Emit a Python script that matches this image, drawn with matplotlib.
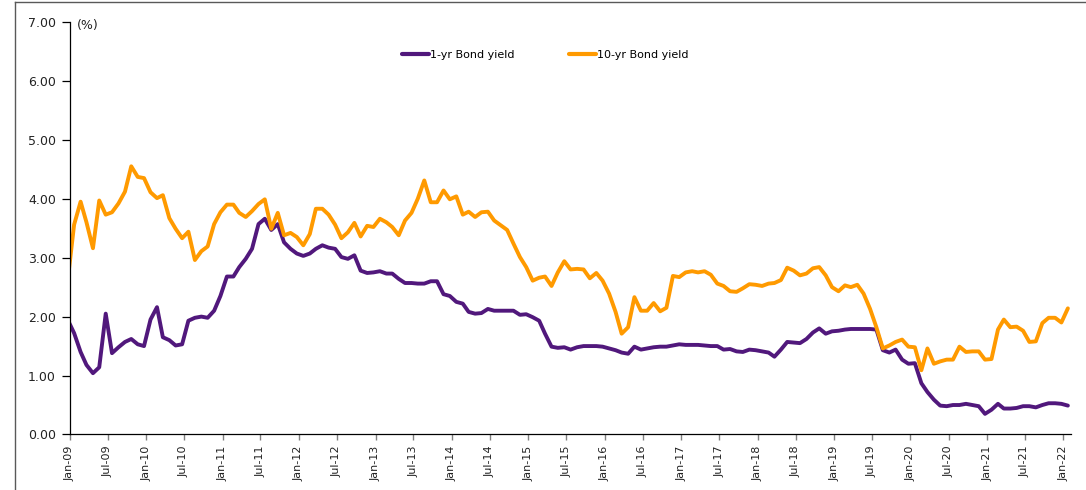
"""
Thai 1-yr vs 10-yr bond yield, monthly, Dec-08 to Jan-22
"""

import pandas as pd
import matplotlib
matplotlib.use("Agg")
from matplotlib import pyplot as plt
import matplotlib.dates as mdates
from matplotlib.lines import Line2D

# Data (monthly), first value is Dec-08
months = pd.date_range("2008-12-01", "2022-01-01", freq="MS") + pd.Timedelta(days=21)

ten_yr = [2.60,
          3.56, 3.95, 3.60, 3.16, 3.97, 3.73, 3.77, 3.92, 4.12, 4.55, 4.37, 4.35,
          4.11, 4.01, 4.06, 3.67, 3.49, 3.33, 3.44, 2.96, 3.11, 3.19, 3.57, 3.77,
          3.90, 3.90, 3.76, 3.69, 3.79, 3.91, 3.99, 3.49, 3.76, 3.38, 3.42, 3.35,
          3.21, 3.40, 3.83, 3.83, 3.73, 3.56, 3.33, 3.43, 3.59, 3.36, 3.54, 3.52,
          3.66, 3.60, 3.52, 3.38, 3.63, 3.76, 4.00, 4.31, 3.94, 3.94, 4.14, 3.99,
          4.04, 3.73, 3.78, 3.69, 3.77, 3.78, 3.63, 3.55, 3.47, 3.24, 3.01, 2.84,
          2.61, 2.66, 2.68, 2.52, 2.75, 2.94, 2.80, 2.81, 2.80, 2.65, 2.74, 2.61,
          2.39, 2.08, 1.71, 1.82, 2.33, 2.10, 2.10, 2.23, 2.09, 2.15, 2.69, 2.67,
          2.75, 2.77, 2.75, 2.77, 2.71, 2.56, 2.52, 2.43, 2.42, 2.48, 2.55, 2.54,
          2.52, 2.56, 2.57, 2.62, 2.83, 2.78, 2.70, 2.73, 2.82, 2.84, 2.70, 2.50,
          2.43, 2.53, 2.50, 2.54, 2.39, 2.13, 1.82, 1.46, 1.51, 1.57, 1.61, 1.49,
          1.48, 1.09, 1.46, 1.20, 1.24, 1.27, 1.27, 1.49, 1.40, 1.41, 1.41, 1.27,
          1.28, 1.78, 1.95, 1.82, 1.83, 1.76, 1.57, 1.58, 1.89, 1.98, 1.98, 1.90,
          2.14]

one_yr = [1.95,
          1.72, 1.40, 1.18, 1.04, 1.14, 2.05, 1.38, 1.48, 1.57, 1.62, 1.53, 1.50,
          1.95, 2.16, 1.65, 1.60, 1.51, 1.53, 1.93, 1.98, 2.00, 1.98, 2.10, 2.35,
          2.68, 2.68, 2.84, 2.98, 3.15, 3.57, 3.66, 3.47, 3.57, 3.26, 3.15, 3.07,
          3.03, 3.07, 3.15, 3.21, 3.17, 3.15, 3.01, 2.98, 3.04, 2.78, 2.74, 2.75,
          2.77, 2.73, 2.73, 2.64, 2.57, 2.57, 2.56, 2.56, 2.60, 2.60, 2.38, 2.35,
          2.25, 2.22, 2.08, 2.05, 2.06, 2.13, 2.10, 2.10, 2.10, 2.10, 2.03, 2.04,
          1.99, 1.93, 1.71, 1.49, 1.47, 1.48, 1.44, 1.48, 1.50, 1.50, 1.50, 1.49,
          1.46, 1.43, 1.39, 1.37, 1.49, 1.44, 1.46, 1.48, 1.49, 1.49, 1.51, 1.53,
          1.52, 1.52, 1.52, 1.51, 1.50, 1.50, 1.44, 1.45, 1.41, 1.40, 1.44, 1.43,
          1.41, 1.39, 1.32, 1.44, 1.57, 1.56, 1.55, 1.62, 1.73, 1.80, 1.71, 1.75,
          1.76, 1.78, 1.79, 1.79, 1.79, 1.79, 1.78, 1.43, 1.39, 1.44, 1.27, 1.20,
          1.21, 0.87, 0.72, 0.59, 0.49, 0.48, 0.50, 0.50, 0.52, 0.50, 0.48, 0.35,
          0.42, 0.52, 0.44, 0.44, 0.45, 0.48, 0.48, 0.46, 0.50, 0.53, 0.53, 0.52,
          0.49]

tick_dates = pd.date_range("2009-01-01", "2022-01-01", freq="6MS")
y_ticks = [0, 1, 2, 3, 4, 5, 6, 7]

purple = "#51187c"
orange = "#ff9a00"

plt.rcParams["font.family"] = ["DejaVu Sans"]
plt.rcParams["font.size"] = 8

fig = plt.figure(figsize=(10.86, 4.9), dpi=100)
ax = fig.add_axes([0.0642, 0.1133, 0.922, 0.842])

# Remove right and top borders
ax.spines["top"].set_visible(False)
ax.spines["right"].set_visible(False)
ax.spines["left"].set_linewidth(0.9)
ax.spines["bottom"].set_linewidth(0.9)

ax.plot(months, one_yr, color=purple, lw=2.8, solid_joinstyle="round",
        solid_capstyle="round", label="1-yr Bond yield")
ax.plot(months, ten_yr, color=orange, lw=2.8, solid_joinstyle="round",
        solid_capstyle="round", label="10-yr Bond yield")

# Axes
ax.set_xlim(pd.Timestamp("2009-01-01"), pd.Timestamp("2022-02-06"))
ax.set_ylim(0, 7)
ax.set_yticks(y_ticks)
ax.set_yticklabels([f"{v:.2f}" for v in y_ticks], fontsize=9, color="#222222")
ax.set_xticks(tick_dates)
ax.xaxis.set_major_formatter(mdates.DateFormatter("%b-%y"))
plt.setp(ax.get_xticklabels(), rotation=90, fontsize=8, color="#222222")
ax.tick_params(axis="y", direction="out", length=6, width=0.9, pad=4)
ax.tick_params(axis="x", direction="out", length=4, width=1.0, color="#808080", pad=4)

ax.text(0.007, 0.991, "(%)", transform=ax.transAxes, fontsize=9,
        color="#222222", ha="left", va="center")

# Legend
leg = fig.legend(loc="center", bbox_to_anchor=(0.502, 0.888), ncol=2, frameon=False,
                 handlelength=2.4, handletextpad=0.1, columnspacing=4.9, fontsize=8)
for h in leg.get_lines():
    h.set_linewidth(3)

# Chart area border (top and left edges visible)
fig.add_artist(Line2D([15 / 1086, 1], [1 - 2.5 / 490, 1 - 2.5 / 490],
                      color="#595959", lw=1, transform=fig.transFigure))
fig.add_artist(Line2D([15 / 1086, 15 / 1086], [0, 1 - 2.5 / 490],
                      color="#595959", lw=1, transform=fig.transFigure))

plt.savefig("out.png", dpi=100)
plt.close()
